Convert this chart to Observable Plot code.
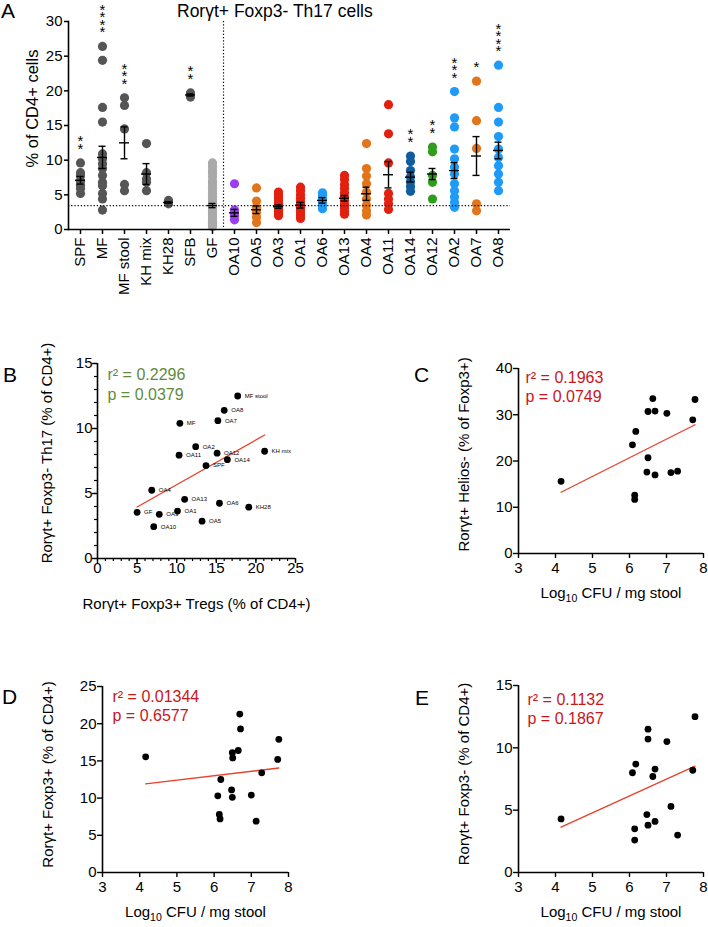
<!DOCTYPE html>
<html><head><meta charset="utf-8">
<script src="https://cdn.jsdelivr.net/npm/d3@7"></script>
<script src="https://cdn.jsdelivr.net/npm/@observablehq/plot@0.6"></script>
<style>
body{margin:0;background:#fff;}
#fig{position:relative;width:708px;height:927px;background:#fff;font-family:"Liberation Sans",Arial,Helvetica,sans-serif;color:#000;}
.lab{position:absolute;line-height:1;white-space:nowrap;}
</style></head>
<body><div id="fig"></div>
<script>
// ---------- Panel A data ----------
const groups = ["SPF","MF","MF stool","KH mix","KH28","SFB","GF","OA10","OA5","OA3","OA1","OA6","OA13","OA4","OA11","OA14","OA12","OA2","OA7","OA8"];
const spf = [9.6, 8.2, 7.7, 7.0, 6.4, 5.9, 5.2];
const mf = [26.4, 24.4, 17.6, 15.5, 10.9, 10.2, 9.5, 8.8, 7.8, 6.8, 6.3, 5.2, 4.4, 2.8];
const mfStool = [19.0, 17.9, 14.5, 6.5, 5.6];
const khMix = [12.4, 8.2, 7.3, 6.8, 5.6];
const kh28 = [4.2, 3.7];
const sfb = [19.7, 19.1];
const gf = [9.6, 9.1, 8.5, 8.1, 7.6, 7.0, 6.6, 6.1, 5.7, 5.2, 4.8, 4.3, 4.0, 3.7, 3.3, 3.0, 2.7, 2.4, 2.1, 1.8, 1.5, 1.2, 0.9, 0.6, 0.4];
const oa10 = [6.6, 2.8, 2.3, 1.9, 1.4];
const oa5 = [6.0, 4.1, 3.2, 2.5, 1.8, 1.0];
const oa3 = [5.4, 5.0, 4.6, 4.2, 3.8, 3.5, 3.2, 2.9, 2.6, 2.3, 2.0];
const oa1 = [6.1, 5.6, 5.0, 4.5, 4.0, 3.6, 3.2, 2.8, 2.4, 2.0, 1.6];
const oa6 = [5.3, 4.9, 4.4, 4.0, 3.5, 3.0];
const oa13 = [7.8, 7.2, 6.5, 5.9, 5.3, 4.7, 4.2, 3.6, 3.1, 2.6, 2.2];
const oa4 = [12.4, 8.8, 7.7, 6.6, 5.4, 4.4, 3.5, 2.7, 2.1];
const oa11 = [18.0, 13.8, 9.6, 5.2, 4.4, 3.7, 2.9];
const oa14 = [10.6, 9.8, 8.5, 7.6, 6.9, 6.2, 5.5];
const oa12 = [11.9, 11.2, 7.8, 6.8, 4.4];
const oa2 = [19.9, 16.1, 14.8, 11.6, 10.2, 9.0, 8.0, 6.6, 5.6, 4.7, 3.9, 3.2];
const oa7 = [21.4, 15.7, 11.7, 3.7, 2.7];
const oa8 = [23.7, 17.6, 15.5, 13.4, 11.6, 10.4, 9.2, 8.0, 6.8, 5.6];
const groupValues = [spf, mf, mfStool, khMix, kh28, sfb, gf, oa10, oa5, oa3, oa1, oa6, oa13, oa4, oa11, oa14, oa12, oa2, oa7, oa8];
const groupMeans = [7.1, 10.4, 12.5, 8.0, 3.9, 19.4, 3.45, 2.4, 2.85, 3.3, 3.5, 4.2, 4.5, 5.15, 7.9, 7.55, 8.0, 8.5, 10.6, 11.4];
const groupSEM = [0.55, 1.6, 2.3, 1.5, 0.12, 0.15, 0.3, 0.5, 0.55, 0.25, 0.4, 0.4, 0.4, 0.95, 1.9, 0.7, 0.8, 1.15, 2.8, 1.2];
const groupStars = ["**","****","***","","","**","","","","","","","","","","**","**","***","*","****"];
const aYTicks = [0, 5, 10, 15, 20, 25, 30];

// ---------- Panel B data ----------
const bLabels = ["MF stool","OA8","OA7","MF","OA2","OA12","KH mix","OA11","OA14","SPF","OA4","OA13","OA6","KH28","GF","OA3","OA1","OA5","OA10"];
const bTregs = [17.7, 16.0, 15.2, 10.4, 12.4, 15.1, 21.1, 10.3, 16.4, 13.7, 6.85, 11.0, 15.4, 19.1, 5.0, 7.8, 10.1, 13.2, 7.1];
const bTh17 = [12.5, 11.4, 10.6, 10.4, 8.6, 8.1, 8.25, 7.95, 7.6, 7.15, 5.25, 4.55, 4.25, 3.95, 3.55, 3.4, 3.65, 2.87, 2.45];
const bXTicks = [0, 5, 10, 15, 20, 25];
const bXMinor = [0,1,2,3,4,5,6,7,8,9,10,11,12,13,14,15,16,17,18,19,20,21,22,23,24,25];
const bYTicks = [0, 5, 10, 15];
const bYMinor = [0,1,2,3,4,5,6,7,8,9,10,11,12,13,14,15];

// ---------- Panels C, D, E data ----------
const cfuTicks = [3, 4, 5, 6, 7, 8];
const cX = [4.15, 6.08, 6.17, 6.14, 6.14, 6.50, 6.63, 6.69, 6.50, 6.47, 6.69, 7.01, 7.12, 7.30, 7.77, 7.71];
const cY = [15.6, 23.5, 26.4, 12.6, 11.7, 30.7, 33.5, 30.8, 20.7, 17.6, 17.0, 30.3, 17.5, 17.8, 33.3, 28.9];
const cYTicks = [0, 10, 20, 30, 40];
const dX = [4.16, 6.69, 6.71, 7.74, 6.65, 6.49, 6.50, 7.71, 7.28, 6.18, 6.47, 6.10, 6.49, 7.00, 6.14, 6.16, 7.13];
const dY = [15.55, 21.3, 19.3, 17.9, 16.4, 16.1, 15.4, 15.2, 13.4, 12.5, 11.1, 10.3, 10.1, 10.4, 7.8, 7.2, 6.9];
const dYTicks = [0, 5, 10, 15, 20, 25];
const eX = [4.15, 7.77, 6.50, 6.50, 7.01, 6.17, 6.08, 6.69, 6.63, 7.71, 7.12, 6.47, 6.50, 6.69, 6.14, 6.14, 7.30];
const eY = [4.3, 12.5, 11.5, 10.7, 10.5, 8.7, 8.0, 8.3, 7.7, 8.2, 5.3, 4.65, 3.8, 4.1, 3.5, 2.6, 3.0];
const eYTicks = [0, 5, 10, 15];

// ---------- styles ----------
const FONT = '"Liberation Sans", Arial, Helvetica, sans-serif';
const groupColors = ["#555555","#555555","#555555","#555555","#555555","#555555","#a9a9a9","#9b3df5","#e2751b","#e2200f","#e2200f","#1f9bf7","#e2200f","#e2751b","#e2200f","#0f5c9e","#2f9c1c","#1f9bf7","#e2751b","#1f9bf7"];
const GREEN = "#5e8c3c", RED = "#c8161d", LINE = "#e8402a";
const baseStyle = {fontFamily: FONT, fontSize: "15px", color: "black", background: "transparent", overflow: "visible"};
const intFmt = d => String(d);

const fig = document.getElementById("fig");
function place(svg, left, top) {
  svg.style.position = "absolute";
  svg.style.left = left + "px";
  svg.style.top = top + "px";
  svg.style.maxWidth = "none";
  fig.appendChild(svg);
}
function label(text, left, top, size) {
  const d = document.createElement("div");
  d.className = "lab";
  d.textContent = text;
  d.style.left = left + "px"; d.style.top = top + "px"; d.style.fontSize = size + "px";
  fig.appendChild(d);
}
function subscriptLog(svg) {
  const NS = "http://www.w3.org/2000/svg";
  for (const t of svg.querySelectorAll("text")) {
    if (t.textContent === "Log10 CFU / mg stool") {
      t.textContent = "";
      const a = document.createElementNS(NS, "tspan"); a.textContent = "Log";
      const b = document.createElementNS(NS, "tspan"); b.textContent = "10"; b.setAttribute("dy", "4"); b.setAttribute("font-size", "10.5");
      const c = document.createElementNS(NS, "tspan"); c.textContent = " CFU / mg stool"; c.setAttribute("dy", "-4");
      t.append(a, b, c);
    }
  }
}

// ---------- Panel A ----------
const rowsA = groups.flatMap((g, i) => groupValues[i].map(v => ({group: g, value: v})));
const summaryA = groups.map((g, i) => ({group: g, mean: groupMeans[i], sem: groupSEM[i], stars: groupStars[i], max: d3.max(groupValues[i])}));
const gfMean = groupMeans[groups.indexOf("GF")];

const plotA = Plot.plot({
  width: 530, height: 300, marginLeft: 68, marginRight: 20, marginTop: 21, marginBottom: 71,
  style: baseStyle,
  x: {type: "band", domain: groups, padding: 0},
  y: {domain: [0, 30]},
  color: {domain: groups, range: groupColors},
  marks: [
    Plot.ruleX(["OA10"], {dx: -11, strokeDasharray: "1.2,2", strokeWidth: 1.2}),
    Plot.dot(rowsA, {x: "group", y: "value", fill: "group", r: 4.6}),
    Plot.ruleY([gfMean], {strokeDasharray: "1.2,2", strokeWidth: 1.2}),
    Plot.ruleX(summaryA, {x: "group", y1: d => d.mean - d.sem, y2: d => d.mean + d.sem, strokeWidth: 1.4}),
    Plot.tickY(summaryA, {x: "group", y: "mean", insetLeft: 6, insetRight: 6, strokeWidth: 1.4}),
    Plot.tickY(summaryA, {x: "group", y: d => d.mean + d.sem, insetLeft: 7.5, insetRight: 7.5, strokeWidth: 1.4}),
    Plot.tickY(summaryA, {x: "group", y: d => d.mean - d.sem, insetLeft: 7.5, insetRight: 7.5, strokeWidth: 1.4}),
    // significance stars, stacked vertically
    Plot.text(summaryA.filter(d => d.stars), {x: "group", y: d => d.max + 1.3, text: d => d.stars.split("").join("\n"), lineAnchor: "bottom", lineHeight: 0.5, fontSize: 15}),
    Plot.ruleY([0], {strokeWidth: 1.6}),
    Plot.frame({anchor: "left", strokeWidth: 1.6}),
    Plot.axisY({ticks: aYTicks, tickSize: 4, tickPadding: 2, label: null, strokeWidth: 1.5}),
    Plot.axisX({tickRotate: -90, tickSize: 5, tickPadding: 3, label: null, strokeWidth: 1.5}),
    Plot.text(["% of CD4+ cells"], {text: d => d, frameAnchor: "left", textAnchor: "middle", rotate: -90, dx: -36, dy: -17, fontSize: 16.5})
  ]
});
place(plotA, 0, 0);

// ---------- Panel B ----------
const bData = bLabels.map((l, i) => ({label: l, x: bTregs[i], y: bTh17[i]}));
const plotB = Plot.plot({
  width: 330, height: 290, marginLeft: 97, marginRight: 35, marginTop: 33, marginBottom: 62,
  style: baseStyle,
  x: {domain: [0, 25]}, y: {domain: [0, 15]},
  marks: [
    Plot.linearRegressionY(bData, {x: "x", y: "y", stroke: LINE, strokeWidth: 1.3, ci: 0}),
    Plot.dot(bData, {x: "x", y: "y", r: 3.4, fill: "black"}),
    Plot.text(bData, {x: "x", y: "y", text: "label", dx: 7, textAnchor: "start", fontSize: 6}),
    Plot.ruleX([0], {strokeWidth: 1.6}),
    Plot.ruleY([0], {strokeWidth: 1.6}),
    Plot.axisX({ticks: bXMinor, tickSize: 3, tickFormat: () => "", label: null, strokeWidth: 1.2}),
    Plot.axisX({ticks: bXTicks, tickSize: 5, tickPadding: -1, tickFormat: intFmt, label: null, strokeWidth: 1.4}),
    Plot.axisY({ticks: bYMinor, tickSize: 3, tickFormat: () => "", label: null, strokeWidth: 1.2}),
    Plot.axisY({ticks: bYTicks, tickSize: 5, tickPadding: 0, tickFormat: intFmt, label: null, strokeWidth: 1.4}),
    Plot.text(["r² = 0.2296\np = 0.0379"], {text: d => d, frameAnchor: "top-left", dx: 10, dy: 2.5, textAnchor: "start", lineAnchor: "top", lineHeight: 1.25, fontSize: 16, fill: GREEN}),
    Plot.text(["Rorγt+ Foxp3- Th17 (% of CD4+)"], {text: d => d, frameAnchor: "left", textAnchor: "middle", rotate: -90, dx: -50, dy: -8, fontSize: 15}),
    Plot.text(["Rorγt+ Foxp3+ Tregs (% of CD4+)"], {text: d => d, frameAnchor: "bottom", textAnchor: "middle", dy: 50, fontSize: 15})
  ]
});
place(plotB, 0, 330);

// ---------- scatter helper for C, D, E ----------
function cfuPlot(xs, ys, yTicks, yMax, stats, ylab, opts) {
  const data = xs.map((x, i) => ({x, y: ys[i]}));
  const svg = Plot.plot({
    width: opts.width, height: opts.height, marginLeft: opts.ml, marginRight: opts.mr, marginTop: opts.mt, marginBottom: opts.mb,
    style: baseStyle,
    x: {domain: [3, 8]}, y: {domain: [0, yMax]},
    marks: [
      Plot.linearRegressionY(data, {x: "x", y: "y", stroke: LINE, strokeWidth: 1.3, ci: 0}),
      Plot.dot(data, {x: "x", y: "y", r: 3.4, fill: "black"}),
      Plot.ruleX([3], {strokeWidth: 1.6}),
      Plot.ruleY([0], {strokeWidth: 1.6}),
      Plot.axisX({ticks: cfuTicks, tickSize: 5, tickPadding: 3.5, tickFormat: intFmt, label: null, strokeWidth: 1.4}),
      Plot.axisY({ticks: yTicks, tickSize: 5, tickPadding: 1, tickFormat: intFmt, label: null, strokeWidth: 1.4}),
      Plot.text([stats], {text: d => d, frameAnchor: "top-left", dx: opts.sdx, dy: opts.sdy, textAnchor: "start", lineAnchor: "top", lineHeight: 1.2, fontSize: 16, fill: RED}),
      Plot.text([ylab], {text: d => d, frameAnchor: "left", textAnchor: "middle", rotate: -90, dx: -54.5, dy: opts.ldy, fontSize: 15}),
      Plot.text(["Log10 CFU / mg stool"], {text: d => d, frameAnchor: "bottom", textAnchor: "middle", dy: 44, fontSize: 15})
    ]
  });
  subscriptLog(svg);
  return svg;
}

place(cfuPlot(cX, cY, cYTicks, 40, "r² = 0.1963\np = 0.0749", "Rorγt+ Helios- (% of Foxp3+)",
  {width: 348, height: 290, ml: 158, mr: 5, mt: 38, mb: 67, sdx: 7, sdy: 0.5, ldy: -6.5}), 360, 330);
place(cfuPlot(dX, dY, dYTicks, 25, "r² = 0.01344\np = 0.6577", "Rorγt+ Foxp3+ (% of CD4+)",
  {width: 330, height: 277, ml: 102, mr: 42, mt: 36, mb: 55, sdx: 10, sdy: 1.5, ldy: -5}), 0, 650);
place(cfuPlot(eX, eY, eYTicks, 15, "r² = 0.1132\np = 0.1867", "Rorγt+ Foxp3- (% of CD4+)",
  {width: 348, height: 277, ml: 158, mr: 5, mt: 35, mb: 55, sdx: 9, sdy: 6, ldy: -5}), 360, 650);

// ---------- titles and panel letters ----------
label("Rorγt+ Foxp3- Th17 cells", 177, 2.7, 17.5);
label("A", 1, 0, 21);
label("B", 3, 364, 21);
label("C", 414, 364, 21);
label("D", 2, 686, 21);
label("E", 415, 687, 21);
</script></body></html>
